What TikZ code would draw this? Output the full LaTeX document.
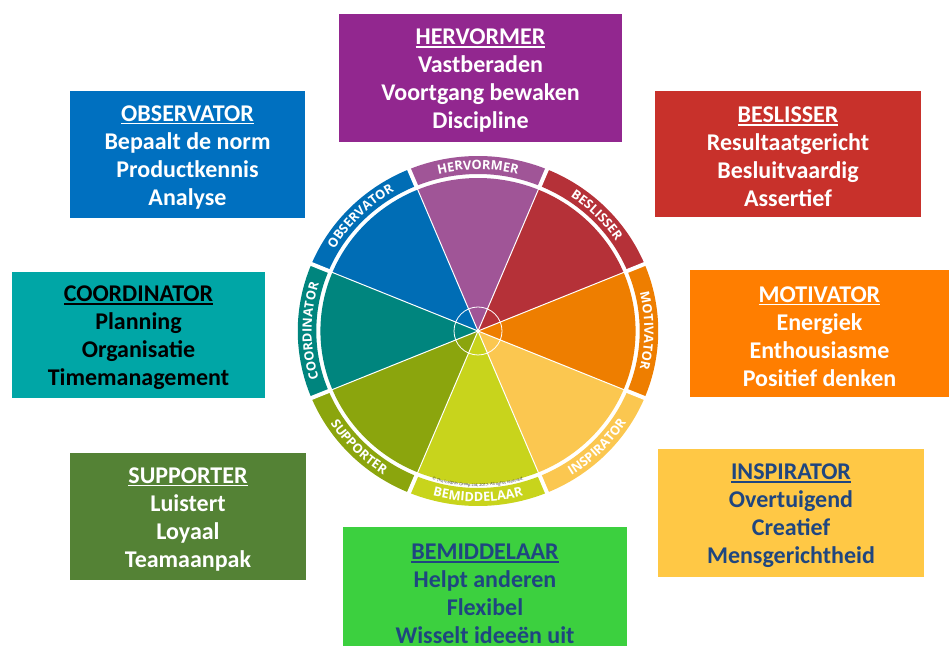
\documentclass[tikz,border=0pt]{standalone}
\usepackage{fontspec}
\setmainfont{Carlito}
\newfontfamily\wheelfamily{Open Sans}
\usetikzlibrary{decorations.text}

\definecolor{boxpurple}{HTML}{92278F}
\definecolor{boxblue}{HTML}{0070C0}
\definecolor{boxred}{HTML}{C8312B}
\definecolor{boxteal}{HTML}{00A6A6}
\definecolor{boxorange}{HTML}{FF7E00}
\definecolor{boxgreen}{HTML}{548235}
\definecolor{boxyellow}{HTML}{FFC845}
\definecolor{boxlime}{HTML}{3CD03F}
\definecolor{navy}{HTML}{1F4680}

\definecolor{wpurple}{HTML}{A05597}
\definecolor{wred}{HTML}{B53138}
\definecolor{worange}{HTML}{EE7E00}
\definecolor{wyellow}{HTML}{FBC750}
\definecolor{wlime}{HTML}{C8D41C}
\definecolor{wolive}{HTML}{8BA50D}
\definecolor{wteal}{HTML}{00857E}
\definecolor{wblue}{HTML}{006DB5}
\definecolor{copygray}{HTML}{333333}

\newcommand\hd[1]{\setbox0\hbox{#1}\rlap{\rule[-3pt]{\wd0}{1.6pt}}\box0}
\newcommand\wlf{\wheelfamily\bfseries\fontsize{12.8}{14}\selectfont}
\newcommand\cpf{\wheelfamily\fontsize{3.9}{4.5}\selectfont}

\tikzset{
  rolebox/.style={rectangle, inner sep=0pt, draw=none},
  roletext/.style={align=center, inner sep=0pt, font=\bfseries\fontsize{24}{28}\selectfont},
  wedgesep/.style={white, line width=1pt},
  bandsep/.style={white, line width=4pt},
}

% name, cx, cy, w, h, fill, textcolour, content
\newcommand\rolecard[8]{%
  \node[rolebox, fill=#6, minimum width=#4pt, minimum height=#5pt] (#1) at (#2,#3) {};
  \node[roletext, text=#7] (#1-t) at ([yshift=-3pt]#1.center) {#8};}

% outward label (clockwise arc), angle, text
\newcommand\outlabel[3]{%
  \path[decorate, decoration={text along path, text={|\wlf|#3}, text align=center, text color=white}]
    (#1:161.5) arc[start angle=#1, end angle=#2, radius=161.5];}
% inward label (counter-clockwise arc)
\newcommand\inlabel[3]{%
  \path[decorate, decoration={text along path, text={|\wlf|#3}, text align=center, text color=white}]
    (#1:170.5) arc[start angle=#1, end angle=#2, radius=170.5];}

\begin{document}
\begin{tikzpicture}[x=1pt,y=1pt]
\useasboundingbox (0,0) rectangle (950,645);
\clip (0,0) rectangle (950,645);
\fill[white] (0,0) rectangle (950,645);

% ---------------- cards ----------------
\rolecard{hervormer}{480.5}{567}{283}{128}{boxpurple}{white}{\hd{HERVORMER}\\Vastberaden\\Voortgang bewaken\\Discipline}
\rolecard{observator}{187.5}{490.5}{235}{127}{boxblue}{white}{\hd{OBSERVATOR}\\Bepaalt de norm\\Productkennis\\Analyse}
\rolecard{beslisser}{788}{491}{266}{126}{boxred}{white}{\hd{BESLISSER}\\Resultaatgericht\\Besluitvaardig\\Assertief}
\rolecard{coordinator}{138.5}{310}{253}{126}{boxteal}{black}{\hd{COORDINATOR}\\Planning\\Organisatie\\Timemanagement}
\rolecard{motivator}{819.5}{311.5}{259}{127}{boxorange}{white}{\hd{MOTIVATOR}\\Energiek\\Enthousiasme\\Positief denken}
\rolecard{supporter}{188}{128.5}{236}{127}{boxgreen}{white}{\hd{SUPPORTER}\\Luistert\\Loyaal\\Teamaanpak}
\rolecard{inspirator}{791}{132}{266}{128}{boxyellow}{navy}{\hd{INSPIRATOR}\\Overtuigend\\Creatief\\Mensgerichtheid}
\rolecard{bemiddelaar}{485}{54}{284}{128}{boxlime}{navy}{\hd{BEMIDDELAAR}\\Helpt anderen\\Flexibel\\Wisselt ideeën uit}

% ---------------- wheel ----------------
\begin{scope}[shift={(478,314)}, xscale=1.03]
  % wedges and band segments
  \foreach \a/\c in {90/wpurple,45/wred,0/worange,-45/wyellow,-90/wlime,-135/wolive,180/wteal,135/wblue}{
    \pgfmathsetmacro\aone{\a-22.5}
    \pgfmathsetmacro\atwo{\a+22.5}
    \fill[\c] (0,0) -- (\aone:153) arc[start angle=\aone, end angle=\atwo, radius=153] -- cycle;
    \fill[\c] (\aone:175) arc[start angle=\aone, end angle=\atwo, radius=175]
      -- (\atwo:157) arc[start angle=\atwo, end angle=\aone, radius=157] -- cycle;
  }
  % separators
  \foreach \b in {22.5,67.5,112.5,157.5,202.5,247.5,292.5,337.5}{
    \draw[wedgesep] (0,0) -- (\b:154);
    \draw[bandsep] (\b:155) -- (\b:177);
  }
  \node[circle, draw=white, line width=0.8pt, minimum size=48pt, inner sep=0pt] (hub) at (0,0) {};

  % band labels
  \outlabel{112}{68}{HERVORMER}
  \outlabel{67}{23}{BESLISSER}
  \outlabel{22}{-22}{MOTIVATOR}
  \outlabel{157}{113}{OBSERVATOR}
  \outlabel{202}{158}{COORDINATOR}
  \inlabel{-67}{-23}{INSPIRATOR}
  \inlabel{-112}{-68}{BEMIDDELAAR}
  \inlabel{-157}{-113}{SUPPORTER}
  % copyright
  \path[decorate, decoration={text along path, text={|\cpf|© The Insights Group Ltd, 2017. All rights reserved.}, text align=center, text color=copygray}]
    (-115:155.3) arc[start angle=-115, end angle=-65, radius=155.3];
\end{scope}
\end{tikzpicture}
\end{document}
